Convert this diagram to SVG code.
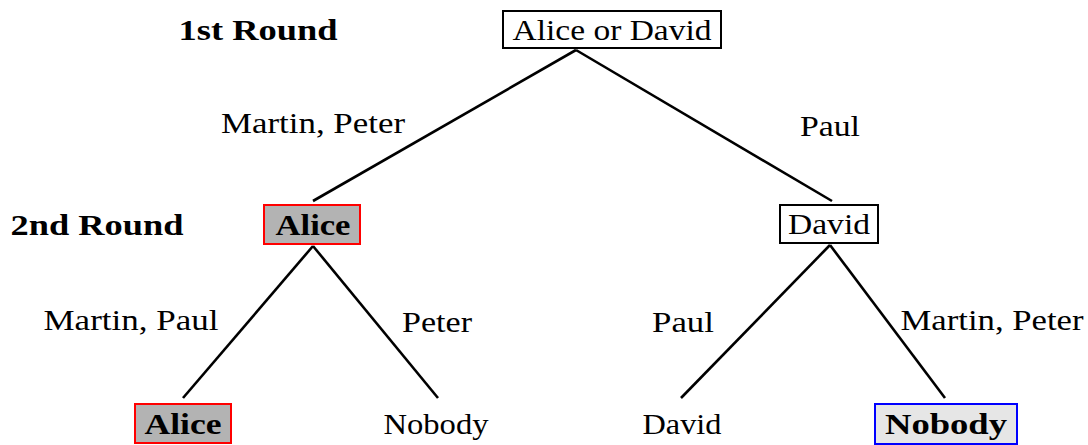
<svg xmlns="http://www.w3.org/2000/svg" width="1088" height="445" viewBox="0 0 1088 445">
<style>
text{font-size:29px;fill:#000;text-anchor:middle}
.b{font-weight:bold}
.box{fill:#fff;stroke:#000;stroke-width:2}
.red{fill:#b3b3b3;stroke:#ff0000;stroke-width:2}
.blue{fill:#e6e6e6;stroke:#0000ff;stroke-width:2}
.edge{stroke:#000;stroke-width:2.6;fill:none}
</style>
<rect width="1088" height="445" fill="#fff"/>
<g id="connectors">
<line class="edge" x1="576" y1="50" x2="313" y2="201"/>
<line class="edge" x1="576" y1="50" x2="832" y2="201"/>
<line class="edge" x1="313" y1="246" x2="183" y2="398"/>
<line class="edge" x1="313" y1="246" x2="438" y2="398"/>
<line class="edge" x1="830" y1="245" x2="681" y2="398"/>
<line class="edge" x1="830" y1="245" x2="945" y2="398"/>
</g>
<g font-family="Liberation Serif, DejaVu Serif, serif">
<g id="labels">
<text class="b" x="258" y="40" textLength="159" lengthAdjust="spacingAndGlyphs">1st Round</text>
<text class="b" x="97" y="235" textLength="173" lengthAdjust="spacingAndGlyphs">2nd Round</text>
<text x="313" y="133" textLength="184" lengthAdjust="spacingAndGlyphs">Martin, Peter</text>
<text x="830" y="136" textLength="60" lengthAdjust="spacingAndGlyphs">Paul</text>
<text x="131" y="330" textLength="175" lengthAdjust="spacingAndGlyphs">Martin, Paul</text>
<text x="437" y="332" textLength="70" lengthAdjust="spacingAndGlyphs">Peter</text>
<text x="683" y="332" textLength="62" lengthAdjust="spacingAndGlyphs">Paul</text>
<text x="992" y="330" textLength="183" lengthAdjust="spacingAndGlyphs">Martin, Peter</text>
</g>
<g id="root">
<rect class="box" x="503" y="11" width="218" height="37"/>
<text x="612" y="40" textLength="199" lengthAdjust="spacingAndGlyphs">Alice or David</text>
</g>
<g id="alice2">
<rect class="red" x="264" y="205" width="96" height="39"/>
<text class="b" x="313" y="235" textLength="75" lengthAdjust="spacingAndGlyphs">Alice</text>
</g>
<g id="david2">
<rect class="box" x="780" y="205" width="98" height="38"/>
<text x="829" y="234" textLength="82" lengthAdjust="spacingAndGlyphs">David</text>
</g>
<g id="alice3">
<rect class="red" x="135" y="404" width="96" height="39"/>
<text class="b" x="183" y="434" textLength="77" lengthAdjust="spacingAndGlyphs">Alice</text>
</g>
<g id="nobody3">
<text x="436" y="434" textLength="105" lengthAdjust="spacingAndGlyphs">Nobody</text>
</g>
<g id="david3">
<text x="682" y="434" textLength="79" lengthAdjust="spacingAndGlyphs">David</text>
</g>
<g id="nobody4">
<rect class="blue" x="875" y="404" width="142" height="40"/>
<text class="b" x="946" y="434" textLength="122" lengthAdjust="spacingAndGlyphs">Nobody</text>
</g>
</g>
</svg>
